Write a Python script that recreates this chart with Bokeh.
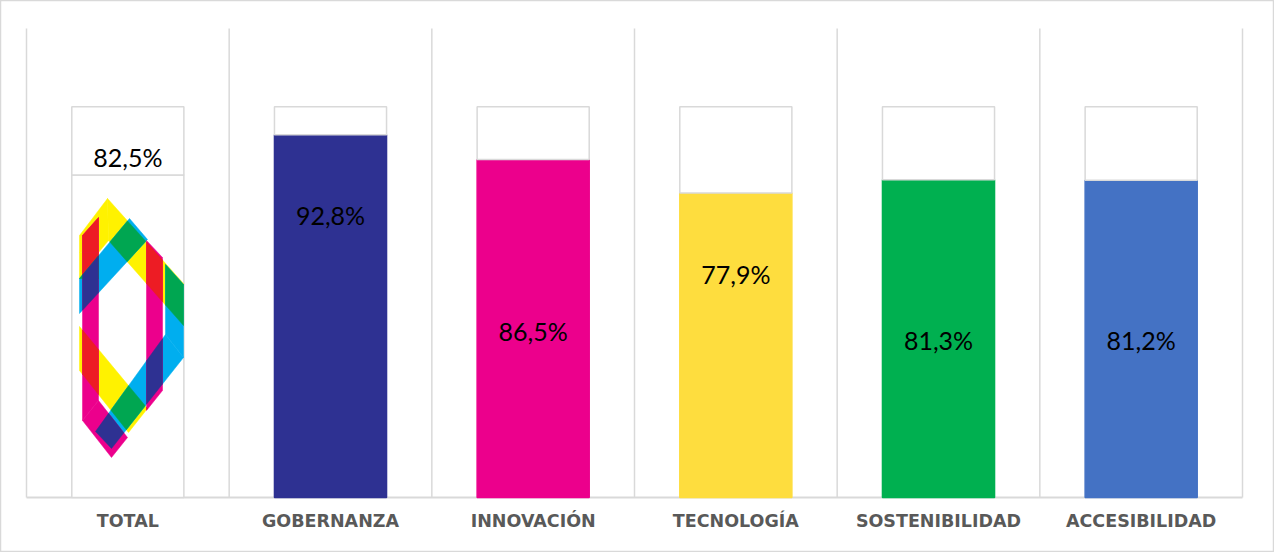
from bokeh.plotting import figure
from bokeh.models import Range1d, ColumnDataSource
from bokeh.core.properties import value
from bokeh.embed import file_html
from bokeh.resources import INLINE

# ---------------- data ----------------
categories = ["TOTAL", "GOBERNANZA", "INNOVACIÓN", "TECNOLOGÍA", "SOSTENIBILIDAD", "ACCESIBILIDAD"]
values = [82.5, 92.8, 86.5, 77.9, 81.3, 81.2]
value_labels = ["82,5%", "92,8%", "86,5%", "77,9%", "81,3%", "81,2%"]
full_scale = [100, 100, 100, 100, 100, 100]

# ---------------- styles / layout ----------------
bar_colors = ["#FFFFFF", "#2E3192", "#EC008C", "#FEDD3E", "#00B050", "#4472C4"]
bar_lines = ["#D9D9D9", "#2E3192", "#EC008C", "#FEDD3E", "#00B050", "#4472C4"]
label_center_pct = [87.0, 72.4, 42.7, 57.3, 40.2, 40.2]   # where each value label sits
GRAY = "#D9D9D9"
W, H = 1274, 552
PL, PR, PT, PB = 26, 1242, 28, 497       # plot area in pixels
YMAX = 1.2
BAR_W = 0.553
CAT_LABEL_PX = 520

n = len(categories)
ux = (PR - PL) / n
uy = (PB - PT) / YMAX

p = figure(width=W, height=H, output_backend="svg", toolbar_location=None,
           x_axis_type=None, y_axis_type=None, min_border=0,
           x_range=Range1d(-PL / ux, (W - PL) / ux),
           y_range=Range1d(-(H - PB) / uy, PB / uy))
p.background_fill_color = "white"
p.border_fill_color = "white"
p.outline_line_color = GRAY
p.outline_line_width = 1.5

xs = [i + 0.5 for i in range(n)]
vals = [v / 100 for v in values]
tops = [f / 100 for f in full_scale]

# category separators and base line
bounds = list(range(n + 1))
p.segment(x0=bounds, y0=[0] * len(bounds), x1=bounds, y1=[YMAX] * len(bounds),
          line_color=GRAY, line_width=1.5)
p.segment(x0=[0], y0=[0], x1=[n], y1=[0], line_color=GRAY, line_width=2)

src = ColumnDataSource(dict(x=xs, v=vals, t=tops, fc=bar_colors, lc=bar_lines))
p.vbar(x="x", bottom=0, top="v", width=BAR_W, fill_color="fc", line_color="lc",
       line_width=1.5, source=src)
p.vbar(x="x", bottom="v", top="t", width=BAR_W, fill_color="white",
       line_color=GRAY, line_width=1.5, source=src)

# ---------------- logo in the TOTAL column ----------------
def clip(subject, clipper):
    def area(poly):
        return sum(poly[i][0] * poly[(i + 1) % len(poly)][1] - poly[(i + 1) % len(poly)][0] * poly[i][1]
                   for i in range(len(poly)))
    sign = 1 if area(clipper) > 0 else -1

    def inside(pt, a, b):
        return sign * ((b[0] - a[0]) * (pt[1] - a[1]) - (b[1] - a[1]) * (pt[0] - a[0])) >= 0

    def inter(s, e, a, b):
        dx, dy = e[0] - s[0], e[1] - s[1]
        ex, ey = b[0] - a[0], b[1] - a[1]
        den = dx * ey - dy * ex
        t = ((a[0] - s[0]) * ey - (a[1] - s[1]) * ex) / den
        return (s[0] + t * dx, s[1] + t * dy)

    out = list(subject)
    for i in range(len(clipper)):
        a, b = clipper[i], clipper[(i + 1) % len(clipper)]
        inp, out = out, []
        if not inp:
            break
        s = inp[-1]
        for e in inp:
            if inside(e, a, b):
                if not inside(s, a, b):
                    out.append(inter(s, e, a, b))
                out.append(e)
            elif inside(s, a, b):
                out.append(inter(s, e, a, b))
            s = e
    return out if len(out) >= 3 else None

# logo shape, pixel units in the logo's local frame
yellow = [
    [(107, 198), (183, 283), (183, 325), (108, 240)],
    [(79, 235), (107, 198), (108, 240), (98, 252), (79, 252)],
    [(79, 252), (98, 252), (98, 278), (79, 278)],
    [(79, 326), (147, 408), (128, 432), (79, 370)],
]
cyan = [
    [(79, 278), (129, 218), (147, 239), (79, 313)],
    [(165, 264), (183, 284), (183, 357), (165, 334)],
    [(165, 334), (183, 357), (111, 448), (95, 431)],
]
magenta = [
    [(82, 235), (98, 217), (98, 400), (82, 420)],
    [(146, 240), (162, 257), (162, 390), (146, 410)],
    [(82, 420), (98, 400), (127, 437), (111, 457)],
]

def to_data(poly):
    return ([(q[0] - PL) / ux for q in poly], [(PB - q[1]) / uy for q in poly])

layers = []
for polys, col in ((yellow, "#FFF200"), (cyan, "#00AEEF"), (magenta, "#EC008C")):
    for poly in polys:
        layers.append((poly, col))
for A, B, col in ((yellow, magenta, "#ED1C24"), (yellow, cyan, "#00A651"), (cyan, magenta, "#2E3192")):
    for a in A:
        for b in B:
            r = clip(a, b)
            if r:
                layers.append((r, col))

lx, ly, lc = [], [], []
for poly, col in layers:
    dx, dy = to_data(poly)
    lx.append(dx)
    ly.append(dy)
    lc.append(col)
p.patches(xs=lx, ys=ly, fill_color=lc, line_color=lc, line_width=0.5)

# ---------------- texts ----------------
p.text(x=xs, y=[b / 100 for b in label_center_pct], text=value_labels,
       text_font=value("Lato"), text_font_size="25px", text_color="black",
       text_align="center", text_baseline="middle")

p.text(x=xs, y=[-(CAT_LABEL_PX - PB) / uy] * n, text=categories,
       text_font=value("DejaVu Sans"), text_font_style="bold", text_font_size="17.5px",
       text_color="#595959", text_align="center", text_baseline="middle")

open("out.html", "w").write(file_html(p, INLINE))
